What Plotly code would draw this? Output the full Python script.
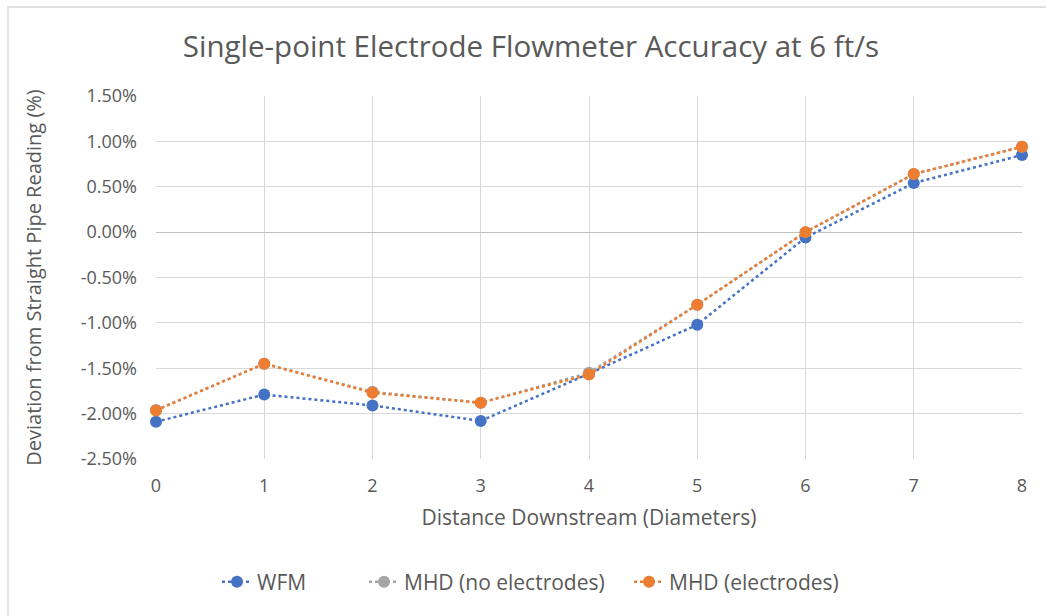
import plotly.graph_objects as go

distance = [0, 1, 2, 3, 4, 5, 6, 7, 8]
wfm = [-2.09, -1.79, -1.91, -2.08, -1.56, -1.02, -0.06, 0.54, 0.85]
mhd_no_electrodes = [-1.96, -1.45, -1.76, -1.88, -1.55, -0.80, 0.00, 0.64, 0.94]
mhd_electrodes = [-1.965, -1.45, -1.77, -1.88, -1.57, -0.80, 0.00, 0.64, 0.94]
y_tickvals = [-2.5, -2.0, -1.5, -1.0, -0.5, 0.0, 0.5, 1.0, 1.5]
y_ticktext = ["-2.50%", "-2.00%", "-1.50%", "-1.00%", "-0.50%", "0.00%", "0.50%", "1.00%", "1.50%"]

series = [
    ("WFM", wfm, "#4472C4", "legend", 237),
    ("MHD (no electrodes)", mhd_no_electrodes, "#A5A5A5", "legend2", 384),
    ("MHD (electrodes)", mhd_electrodes, "#ED7D31", "legend3", 649),
]

font_family = "'Open Sans', sans-serif"
W, H = 1046, 616
ML, MR, MT, MB = 156, 24, 96, 157
PW, PH = W - ML - MR, H - MT - MB

fig = go.Figure()
legends = {}
for name, vals, color, lg, marker_x in series:
    fig.add_trace(go.Scatter(
        x=distance, y=vals, name=name, mode="lines+markers",
        line=dict(color=color, width=2.5, dash="dot"),
        marker=dict(color=color, size=12),
        cliponaxis=False, legend=lg, showlegend=True,
    ))
    legends[lg] = dict(orientation="h", x=(marker_x - 20 - ML) / PW, xanchor="left",
                       y=(H - MB - 582) / PH, yanchor="middle",
                       font=dict(size=21, color="#595959"), itemwidth=30,
                       bgcolor="rgba(0,0,0,0)", visible=True)

fig.update_layout(
    width=W, height=H,
    showlegend=True,
    margin=dict(l=ML, r=MR, t=MT, b=MB),
    paper_bgcolor="white", plot_bgcolor="white",
    font=dict(family=font_family, color="#595959", size=18),
    title=dict(text="Single-point Electrode Flowmeter Accuracy at 6 ft/s",
               xref="container", x=531 / W, xanchor="center",
               yref="container", y=1 - 47 / H, yanchor="middle",
               font=dict(size=29.5, color="#595959", family=font_family)),
    xaxis=dict(range=[0, 8], tickvals=distance, showgrid=True, gridcolor="#D9D9D9",
               gridwidth=1.3, zeroline=False, showline=False, ticks="",
               tickfont=dict(size=18), ticklabelstandoff=14,
               title=dict(text="Distance Downstream (Diameters)", font=dict(size=21), standoff=14)),
    yaxis=dict(range=[-2.5, 1.5], tickvals=y_tickvals, ticktext=y_ticktext,
               showgrid=True, gridcolor="#D9D9D9", gridwidth=1.3,
               zeroline=True, zerolinecolor="#BFBFBF", zerolinewidth=1.3,
               showline=False, ticks="", tickfont=dict(size=18), ticklabelstandoff=18,
               title=dict(text="Deviation from Straight Pipe Reading (%)", font=dict(size=20), standoff=33)),
    shapes=[dict(type="rect", xref="paper", yref="paper",
                 x0=(8 - ML) / PW, x1=1.2, y0=-0.6, y1=(H - MB - 7) / PH,
                 line=dict(color="#D9D9D9", width=1.3), fillcolor="rgba(0,0,0,0)", layer="below")],
    **legends,
)

fig.write_html("out.html")
